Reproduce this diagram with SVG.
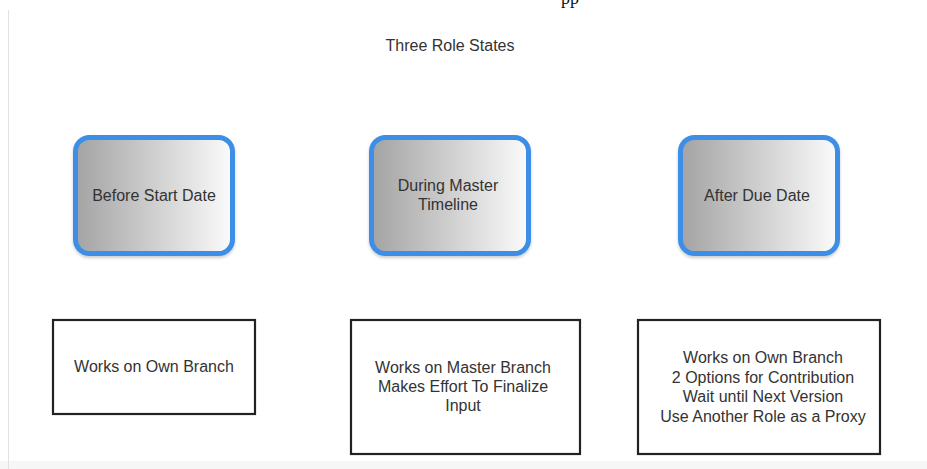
<svg xmlns="http://www.w3.org/2000/svg" width="927" height="469" viewBox="0 0 927 469">
<style>
text{font-family:"Liberation Sans",Arial,sans-serif;font-size:16px;fill:#333;text-anchor:middle}
.state{fill:url(#g);stroke:#3c8ee6;stroke-width:5}
.box{fill:#fff;stroke:#222;stroke-width:2.2}
</style>
<defs>
<linearGradient id="g" x1="0" y1="0" x2="1" y2="0">
<stop offset="0" stop-color="#a3a3a3"/>
<stop offset="1" stop-color="#fbfbfb"/>
</linearGradient>
<filter id="sh" x="-10%" y="-10%" width="120%" height="125%">
<feDropShadow dx="0" dy="2" stdDeviation="1.5" flood-color="#000" flood-opacity="0.2"/>
</filter>
</defs>
<rect x="0" y="0" width="927" height="469" fill="#fff"/>
<rect x="0" y="461" width="927" height="8" fill="#f6f6f6"/>
<line x1="8.5" y1="10" x2="8.5" y2="469" stroke="#e2e2e2" stroke-width="1"/>
<text x="570" y="4" style="font-family:'Liberation Serif',serif;font-size:18px;fill:#111">pp</text>
<text id="title" x="450" y="51">Three Role States</text>
<g id="before">
<rect class="state" x="75.5" y="137.5" width="157" height="116" rx="14" filter="url(#sh)"/>
<text x="154" y="201">Before Start Date</text>
</g>
<g id="during">
<rect class="state" x="371.5" y="137.5" width="157" height="116" rx="14" filter="url(#sh)"/>
<text x="448" y="191">During Master</text>
<text x="448" y="210">Timeline</text>
</g>
<g id="after">
<rect class="state" x="680.5" y="137.5" width="157" height="116" rx="14" filter="url(#sh)"/>
<text x="757" y="201">After Due Date</text>
</g>
<g id="own">
<rect class="box" x="53" y="320" width="202" height="94"/>
<text x="154" y="372">Works on Own Branch</text>
</g>
<g id="master">
<rect class="box" x="351" y="320" width="229" height="134"/>
<text x="463" y="373">Works on Master Branch</text>
<text x="463" y="392">Makes Effort To Finalize</text>
<text x="463" y="411">Input</text>
</g>
<g id="owndue">
<rect class="box" x="638" y="320" width="242" height="134"/>
<text x="763" y="363">Works on Own Branch</text>
<text x="763" y="382.5">2 Options for Contribution</text>
<text x="763" y="402">Wait until Next Version</text>
<text x="763" y="421.5">Use Another Role as a Proxy</text>
</g>
<g id="connectors"></g>
</svg>
